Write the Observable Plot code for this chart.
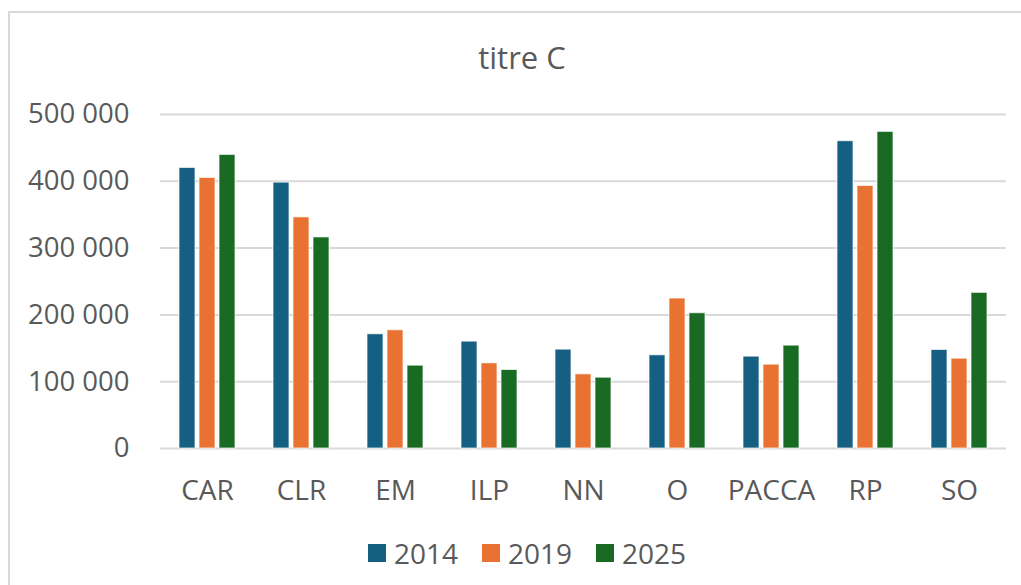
<!DOCTYPE html>
<html><head><meta charset="utf-8">
<script src="https://cdn.jsdelivr.net/npm/d3@7"></script>
<script src="https://cdn.jsdelivr.net/npm/@observablehq/plot@0.6"></script>
<style>
body{margin:0;background:#fff;font-family:"Open Sans",sans-serif;color:#595959;}
#wrap{position:relative;width:1021px;height:585px;overflow:hidden;}
#frame{position:absolute;left:8px;top:11px;width:1040px;height:620px;border:2px solid #d9d9d9;box-sizing:border-box;}
#title{position:absolute;top:37px;left:0;width:1044px;text-align:center;font-size:31px;line-height:40px;color:#595959;}
#chart{position:absolute;left:0;top:0;}
#legend{position:absolute;left:368px;top:536px;display:flex;gap:24px;font-size:28px;line-height:34px;color:#595959;}
#legend .it{display:flex;align-items:center;gap:8px;}
#legend .sw{width:18px;height:18px;display:inline-block;}
</style></head>
<body>
<div id="wrap">
  <div id="frame"></div>
  <div id="title">titre C</div>
  <div id="chart"></div>
  <div id="legend"></div>
</div>
<script>
const categories = ["CAR","CLR","EM","ILP","NN","O","PACCA","RP","SO"];
const years = ["2014","2019","2025"];
const v2014 = [420000, 398000, 171000, 160000, 148000, 139500, 137500, 460000, 147500];
const v2019 = [405000, 346000, 177000, 127500, 111000, 224500, 125500, 393000, 134500];
const v2025 = [439500, 316000, 124000, 117500, 106000, 202500, 154000, 474000, 233000];
const colors = ["#156082", "#E97132", "#196B24"];
const yTicks = [0, 100000, 200000, 300000, 400000, 500000];

const series = [v2014, v2019, v2025];
const data = categories.flatMap((c, i) => years.map((y, j) => ({cat: c, year: y, value: series[j][i]})));
const fmt = d => d3.format(",")(d).replace(/,/g, " ");

const chart = Plot.plot({
  width: 1021, height: 585,
  marginTop: 114, marginBottom: 137, marginLeft: 160, marginRight: 15,
  style: {background: "transparent", fontFamily: "Open Sans", fontSize: "27px", color: "#595959"},
  fx: {domain: categories, paddingInner: 0, paddingOuter: 0, label: null},
  x: {domain: years, paddingInner: 0.2, paddingOuter: 0.87, axis: null},
  y: {domain: [0, 500000], label: null},
  color: {domain: years, range: colors},
  marks: [
    Plot.gridY(yTicks, {stroke: "#d9d9d9", strokeOpacity: 1, strokeWidth: 2}),
    Plot.barY(data, {fx: "cat", x: "year", y: "value", fill: "year", stroke: "white", strokeWidth: 1, strokeOpacity: 0.7}),
    Plot.axisY(yTicks, {tickSize: 0, tickPadding: 31, tickFormat: fmt, fill: "#595959", fontSize: 27.5, label: null}),
    Plot.axisFx({anchor: "bottom", tickSize: 0, tickPadding: 32, fill: "#595959", fontSize: 28, label: null})
  ]
});
document.getElementById("chart").appendChild(chart);

const legend = document.getElementById("legend");
years.forEach((y, i) => {
  const it = document.createElement("div");
  it.className = "it";
  it.innerHTML = `<span class="sw" style="background:${colors[i]}"></span><span>${y}</span>`;
  legend.appendChild(it);
});
</script>
</body></html>
